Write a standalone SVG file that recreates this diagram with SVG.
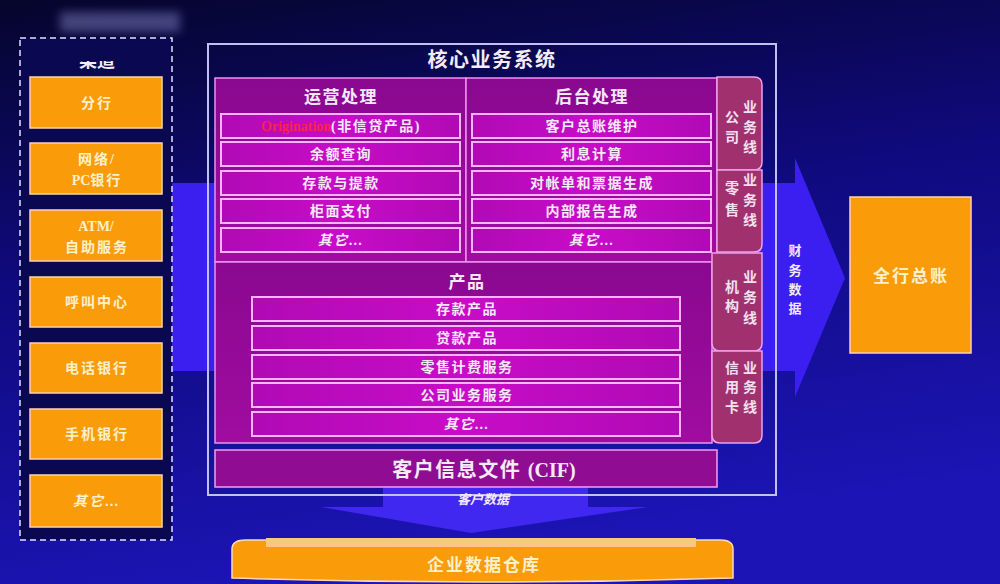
<svg xmlns="http://www.w3.org/2000/svg" width="1000" height="584" viewBox="0 0 1000 584">
<defs>
<linearGradient id="bg" x1="0" y1="0" x2="0.25" y2="1">
<stop offset="0" stop-color="#05052c"/>
<stop offset="0.45" stop-color="#0f0a7c"/>
<stop offset="1" stop-color="#1c14b4"/>
</linearGradient>
<linearGradient id="pan" x1="0" y1="0" x2="0" y2="1">
<stop offset="0" stop-color="#8a0890"/>
<stop offset="1" stop-color="#a00ca0"/>
</linearGradient>
<linearGradient id="row" x1="0" y1="0" x2="1" y2="0">
<stop offset="0" stop-color="#b00ab4"/>
<stop offset="0.5" stop-color="#c80cc8"/>
<stop offset="1" stop-color="#b00ab4"/>
</linearGradient>
<filter id="blur" x="-20%" y="-50%" width="140%" height="200%"><feGaussianBlur stdDeviation="5"/></filter>
<clipPath id="ttl"><rect x="60" y="61" width="80" height="8"/></clipPath>
<style>
.t{font-family:"Liberation Serif","Noto Sans CJK SC",serif;font-weight:bold;text-anchor:middle}
.w{fill:#f4eaf8}
.o{fill:#fff0cc;font-size:14px;letter-spacing:2px}
.orange{fill:#fa9c0a;stroke:#ffd2b0;stroke-width:1.5}
.panel{fill:url(#pan);stroke:#f090f0;stroke-width:1.5}
.row{fill:url(#row);stroke:#ffb4ff;stroke-width:2}
.seg{fill:#a0306e;stroke:#f0a0e8;stroke-width:1.5}
.r{font-size:14px;letter-spacing:1.5px}
.h{letter-spacing:1.5px}
.lat{letter-spacing:0}
.bl{font-size:14px;fill:#f4e0f0}
</style>
</defs>
<rect width="1000" height="584" fill="url(#bg)"/>
<rect x="60" y="12" width="120" height="20" fill="#8080c0" opacity="0.5" filter="url(#blur)"/>

<g id="connectors">
<polygon id="arrow-finance" points="172,183 795,183 795,158 845,278 795,397 795,371 172,371" fill="#3a1ff0"/>
<polygon id="arrow-customer" points="383,487 588,487 588,507 648,507 471,533 321,507 383,507" fill="#4028f0"/>
</g>

<g id="channels">
<rect x="20" y="38" width="152" height="502" fill="#0a0850" stroke="#e0e0ff" stroke-width="1.5" stroke-dasharray="6,4"/>
<text class="t w" x="97" y="67" font-size="18" clip-path="url(#ttl)">渠道</text>
<g id="ch1"><rect class="orange" x="30" y="77" width="132" height="51"/><text class="t o" x="97" y="108">分行</text></g>
<g id="ch2"><rect class="orange" x="30" y="143" width="132" height="51"/><text class="t o" x="97" y="164">网络/</text><text class="t o" x="97" y="185"><tspan class="lat">PC</tspan>银行</text></g>
<g id="ch3"><rect class="orange" x="30" y="210" width="132" height="51"/><text class="t o lat" x="96" y="231">ATM/</text><text class="t o" x="97" y="252">自助服务</text></g>
<g id="ch4"><rect class="orange" x="30" y="277" width="132" height="50"/><text class="t o" x="97" y="307">呼叫中心</text></g>
<g id="ch5"><rect class="orange" x="30" y="343" width="132" height="50"/><text class="t o" x="97" y="373">电话银行</text></g>
<g id="ch6"><rect class="orange" x="30" y="409" width="132" height="50"/><text class="t o" x="97" y="439">手机银行</text></g>
<g id="ch7"><rect class="orange" x="30" y="475" width="132" height="52"/><text class="t o" x="97" y="506" font-style="italic">其它…</text></g>
</g>

<g id="core">
<rect x="208" y="44" width="568" height="451" fill="none" stroke="#c0c0f4" stroke-width="2"/>
<text class="t w h" x="492" y="67" font-size="20">核心业务系统</text>

<g id="ops">
<rect class="panel" x="215" y="78" width="251" height="184"/>
<text class="t w h" x="341" y="103" font-size="17">运营处理</text>
<rect class="row" x="221" y="114" width="239" height="24"/>
<text class="t r" x="341" y="131"><tspan fill="#ff2050" class="lat">Origination</tspan><tspan fill="#f4eaf8">(非信贷产品)</tspan></text>
<rect class="row" x="221" y="142" width="239" height="24"/><text class="t w r" x="341" y="159">余额查询</text>
<rect class="row" x="221" y="171" width="239" height="24"/><text class="t w r" x="341" y="188">存款与提款</text>
<rect class="row" x="221" y="199" width="239" height="24"/><text class="t w r" x="341" y="216">柜面支付</text>
<rect class="row" x="221" y="228" width="239" height="24"/><text class="t w r" x="341" y="245" font-style="italic">其它…</text>
</g>

<g id="backoffice">
<rect class="panel" x="466" y="78" width="251" height="184"/>
<text class="t w h" x="592" y="103" font-size="17">后台处理</text>
<rect class="row" x="472" y="114" width="239" height="24"/><text class="t w r" x="592" y="131">客户总账维护</text>
<rect class="row" x="472" y="142" width="239" height="24"/><text class="t w r" x="592" y="159">利息计算</text>
<rect class="row" x="472" y="171" width="239" height="24"/><text class="t w r" x="592" y="188">对帐单和票据生成</text>
<rect class="row" x="472" y="199" width="239" height="24"/><text class="t w r" x="592" y="216">内部报告生成</text>
<rect class="row" x="472" y="228" width="239" height="24"/><text class="t w r" x="592" y="245" font-style="italic">其它…</text>
</g>

<g id="products">
<rect class="panel" x="215" y="262" width="497" height="181"/>
<text class="t w h" x="467" y="288" font-size="17">产品</text>
<rect class="row" x="252" y="297" width="428" height="24"/><text class="t w r" x="467" y="314">存款产品</text>
<rect class="row" x="252" y="326" width="428" height="24"/><text class="t w r" x="467" y="343">贷款产品</text>
<rect class="row" x="252" y="355" width="428" height="24"/><text class="t w r" x="467" y="372">零售计费服务</text>
<rect class="row" x="252" y="383" width="428" height="24"/><text class="t w r" x="467" y="400">公司业务服务</text>
<rect class="row" x="252" y="412" width="428" height="24"/><text class="t w r" x="467" y="429" font-style="italic">其它…</text>
</g>

<g id="bl-corp">
<path class="seg" d="M717,77 L754,77 Q762,77 762,85 L762,162 Q762,170 754,170 L717,170 Z"/>
<text class="t bl" x="732" y="122">公</text><text class="t bl" x="732" y="142">司</text>
<text class="t bl" x="750" y="112">业</text><text class="t bl" x="750" y="132">务</text><text class="t bl" x="750" y="152">线</text>
</g>
<g id="bl-retail">
<path class="seg" d="M717,170 L762,170 L762,244 Q762,252 754,252 L717,252 Z"/>
<text class="t bl" x="732" y="193">零</text><text class="t bl" x="732" y="215">售</text>
<text class="t bl" x="750" y="185">业</text><text class="t bl" x="750" y="205">务</text><text class="t bl" x="750" y="225">线</text>
</g>
<g id="bl-inst">
<path class="seg" d="M712,253 L762,253 L762,343 Q762,351 754,351 L720,351 Q712,351 712,343 Z"/>
<text class="t bl" x="732" y="292">机</text><text class="t bl" x="732" y="311">构</text>
<text class="t bl" x="750" y="282">业</text><text class="t bl" x="750" y="302">务</text><text class="t bl" x="750" y="323">线</text>
</g>
<g id="bl-card">
<path class="seg" d="M712,351 L762,351 L762,435 Q762,443 754,443 L720,443 Q712,443 712,435 Z"/>
<text class="t bl" x="732" y="373">信</text><text class="t bl" x="732" y="392">用</text><text class="t bl" x="732" y="412">卡</text>
<text class="t bl" x="750" y="373">业</text><text class="t bl" x="750" y="392">务</text><text class="t bl" x="750" y="412">线</text>
</g>

<g id="cif">
<rect x="215" y="450" width="502" height="37" fill="#900c92" stroke="#f0a0f0" stroke-width="1.5"/>
<text class="t w h" x="484" y="477" font-size="20">客户信息文件 <tspan class="lat">(CIF)</tspan></text>
</g>
</g>

<text class="t w" x="483" y="504" font-size="13" font-style="italic">客户数据</text>
<g id="finance-label">
<text class="t w" x="795" y="255" font-size="13">财</text>
<text class="t w" x="795" y="275" font-size="13">务</text>
<text class="t w" x="795" y="294" font-size="13">数</text>
<text class="t w" x="795" y="313" font-size="13">据</text>
</g>

<g id="gl">
<rect class="orange" x="850" y="197" width="121" height="156"/>
<text class="t o" x="911" y="282" style="font-size:17px">全行总账</text>
</g>

<g id="edw">
<path d="M232,549 Q232,540 246,540 L720,540 Q733,540 733,549 L733,578 Q483,586 232,578 Z" fill="#fa9c0a" stroke="#ffd8b8" stroke-width="1.5"/>
<rect x="266" y="538" width="430" height="9" fill="#f8c880"/>
<text class="t o" x="484" y="571" style="font-size:17px">企业数据仓库</text>
</g>
</svg>
